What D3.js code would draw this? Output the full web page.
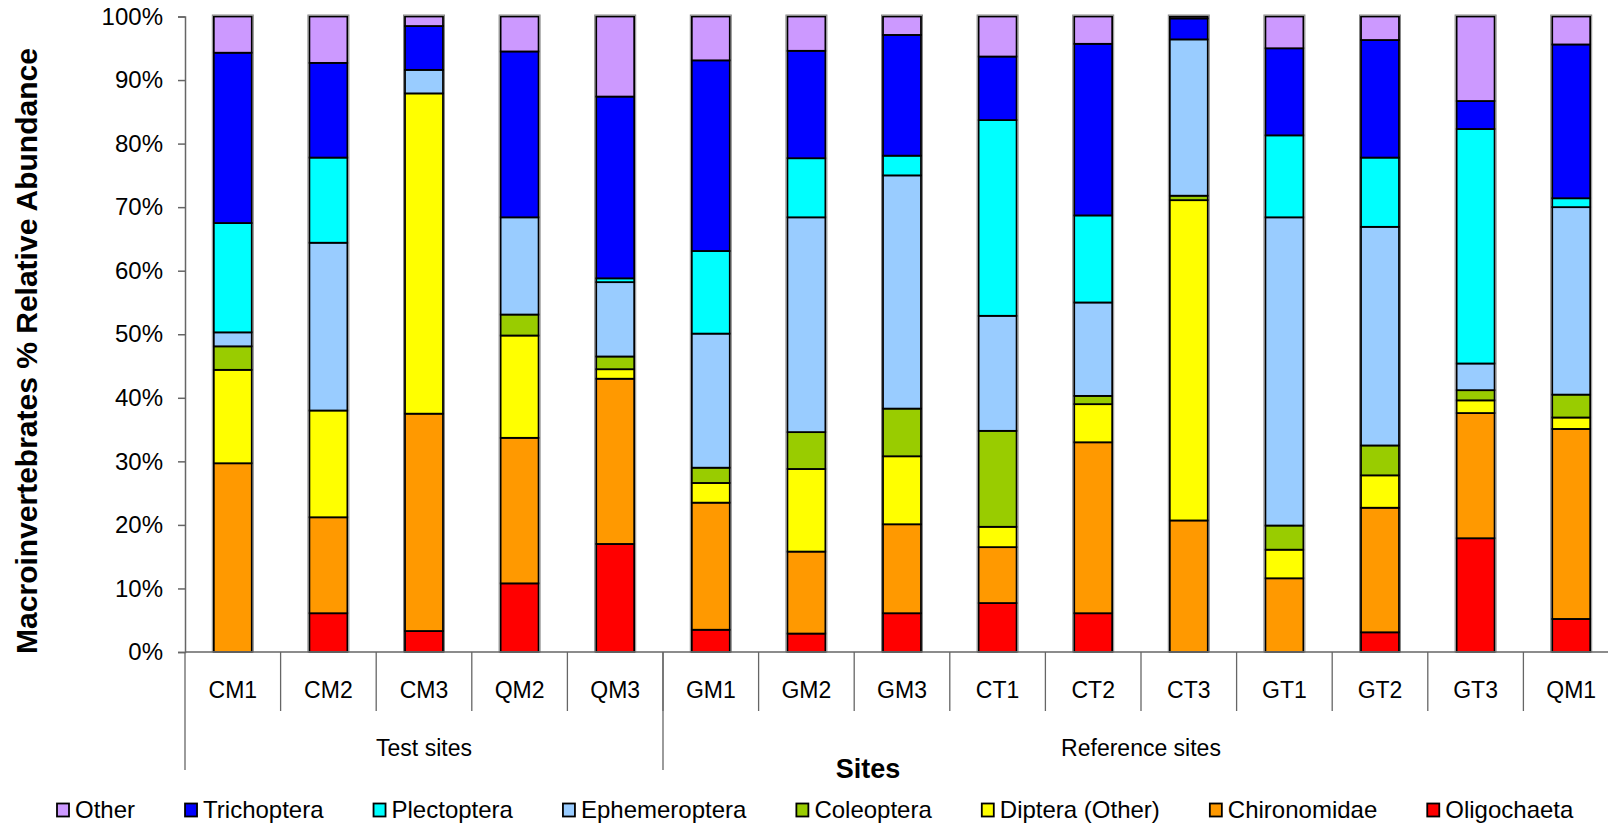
<!DOCTYPE html>
<html>
<head>
<meta charset="utf-8">
<script src="https://cdn.jsdelivr.net/npm/d3@7"></script>
<style>
  html, body { margin: 0; padding: 0; background: #fff; }
  svg { display: block; }
  text { font-family: Arial, "Liberation Sans", sans-serif; fill: #000; }
</style>
</head>
<body>
<svg id="chart" width="1608" height="825"></svg>
<script>
// ---- data ----
const sites = ["CM1","CM2","CM3","QM2","QM3","GM1","GM2","GM3","CT1","CT2","CT3","GT1","GT2","GT3","QM1"];
const groups = [
  { label: "Test sites", count: 5 },
  { label: "Reference sites", count: 10 }
];
// stacking order bottom -> top
const seriesNames = ["Oligochaeta","Chironomidae","Diptera (Other)","Coleoptera","Ephemeroptera","Plectoptera","Trichoptera","Other"];
const seriesColors = ["#FF0000","#FF9900","#FFFF00","#99CC00","#99CCFF","#00FFFF","#0000FF","#CC99FF"];
const oligochaeta   = [0, 6.1, 3.3, 10.8, 17.0, 3.5, 2.9, 6.1, 7.7, 6.1, 0, 0, 3.1, 17.9, 5.2];
const chironomidae  = [29.7, 15.1, 34.2, 22.9, 26.0, 20.0, 12.9, 14.0, 8.8, 26.9, 20.7, 11.6, 19.6, 19.7, 29.9];
const dipteraOther  = [14.7, 16.8, 50.4, 16.1, 1.5, 3.1, 13.0, 10.7, 3.2, 6.0, 50.4, 4.5, 5.1, 2.0, 1.8];
const coleoptera    = [3.7, 0, 0, 3.3, 2.0, 2.4, 5.8, 7.5, 15.1, 1.3, 0.7, 3.8, 4.7, 1.6, 3.6];
const ephemeroptera = [2.2, 26.4, 3.7, 15.3, 11.7, 21.1, 33.8, 36.7, 18.1, 14.7, 24.6, 48.5, 34.4, 4.2, 29.5];
const plectoptera   = [17.2, 13.4, 0, 0, 0.6, 13.0, 9.3, 3.1, 30.8, 13.7, 0, 12.9, 10.9, 36.9, 1.4];
const trichoptera   = [26.8, 14.9, 6.9, 26.1, 28.6, 30.0, 16.9, 19.0, 10.0, 27.0, 3.3, 13.7, 18.5, 4.4, 24.2];
const other         = [5.7, 7.3, 1.5, 5.5, 12.6, 6.9, 5.4, 2.9, 6.3, 4.3, 0.3, 5.0, 3.7, 13.3, 4.4];
const yTicks = [0,10,20,30,40,50,60,70,80,90,100];
const legendOrder = ["Other","Trichoptera","Plectoptera","Ephemeroptera","Coleoptera","Diptera (Other)","Chironomidae","Oligochaeta"];

const seriesValues = [oligochaeta, chironomidae, dipteraOther, coleoptera, ephemeroptera, plectoptera, trichoptera, other];
const rows = sites.map((s, i) => {
  const r = { site: s };
  seriesNames.forEach((n, k) => r[n] = seriesValues[k][i]);
  return r;
});

// ---- layout ----
const svg = d3.select("#chart");
const mLeft = 185, mTop = 16.5, mBottom = 652;
const band = 95.6;
const mRight = mLeft + band * sites.length;

const x = d3.scaleBand().domain(sites).range([mLeft, mRight]).paddingInner(0).paddingOuter(0);
const y = d3.scaleLinear().domain([0, 100]).range([mBottom, mTop]);
const color = d3.scaleOrdinal().domain(seriesNames).range(seriesColors);

const stacked = d3.stack().keys(seriesNames)(rows);
const barW = 38;

// bars
const g = svg.append("g");
stacked.forEach(layer => {
  g.append("g").selectAll("rect").data(layer).join("rect")
    .attr("x", d => x(d.data.site) + x.bandwidth() / 2 - barW / 2)
    .attr("width", barW)
    .attr("y", d => y(d[1]))
    .attr("height", d => Math.max(0, y(d[0]) - y(d[1])))
    .attr("fill", color(layer.key))
    .attr("stroke", "#000")
    .attr("stroke-width", 1.8)
    .attr("display", d => (d[1] - d[0]) > 0 ? null : "none");
});
// outer faint halo around each bar
g.append("g").selectAll("rect").data(sites).join("rect")
  .attr("x", s => x(s) + x.bandwidth() / 2 - barW / 2 - 1.5)
  .attr("width", barW + 3)
  .attr("y", y(100) - 1.5)
  .attr("height", y(0) - y(100) + 1.5)
  .attr("fill", "none")
  .attr("stroke", "#888")
  .attr("stroke-width", 1);

// y axis
const yAxis = d3.axisLeft(y).tickValues(yTicks).tickFormat(d => d + "%").tickSize(7).tickPadding(15);
const ya = svg.append("g").attr("transform", `translate(${mLeft},0)`).call(yAxis);
ya.select(".domain").attr("stroke", "#666").attr("stroke-width", 1.5);
ya.selectAll(".tick line").attr("stroke", "#666").attr("stroke-width", 1.5);
ya.selectAll(".tick text").attr("font-size", 24).attr("font-family", "Arial, 'Liberation Sans', sans-serif").attr("fill", "#000");

// x axis line
svg.append("line").attr("x1", mLeft).attr("x2", mRight).attr("y1", mBottom).attr("y2", mBottom)
  .attr("stroke", "#666").attr("stroke-width", 1.5);

// category dividers
const catBounds = d3.range(1, sites.length).map(i => mLeft + i * band);
svg.append("g").selectAll("line").data(catBounds).join("line")
  .attr("x1", d => d).attr("x2", d => d).attr("y1", mBottom).attr("y2", 711)
  .attr("stroke", "#666").attr("stroke-width", 1.3);

// category labels
svg.append("g").selectAll("text").data(sites).join("text")
  .attr("x", s => x(s) + x.bandwidth() / 2)
  .attr("y", 698)
  .attr("text-anchor", "middle")
  .attr("font-size", 23)
  .text(s => s);

// group dividers & labels
let acc = 0;
const groupBounds = [mLeft];
groups.forEach(gr => { acc += gr.count; groupBounds.push(mLeft + acc * band); });
svg.append("g").selectAll("line").data(groupBounds).join("line")
  .attr("x1", d => d).attr("x2", d => d).attr("y1", mBottom).attr("y2", 770)
  .attr("stroke", "#666").attr("stroke-width", 1.3);
svg.append("g").selectAll("text").data(groups).join("text")
  .attr("x", (d, i) => (groupBounds[i] + groupBounds[i + 1]) / 2)
  .attr("y", 756)
  .attr("text-anchor", "middle")
  .attr("font-size", 23)
  .text(d => d.label);

// axis titles
svg.append("text")
  .attr("x", 868).attr("y", 778)
  .attr("text-anchor", "middle")
  .attr("font-size", 27).attr("font-weight", "bold")
  .text("Sites");
svg.append("text")
  .attr("transform", "translate(37,351) rotate(-90)")
  .attr("text-anchor", "middle")
  .attr("font-size", 30).attr("font-weight", "bold")
  .text("Macroinvertebrates % Relative Abundance");

// legend (flow layout)
const leg = svg.append("g");
let lx = 57;
legendOrder.forEach(name => {
  leg.append("rect").attr("x", lx).attr("y", 803.5).attr("width", 12).attr("height", 13)
    .attr("fill", color(name)).attr("stroke", "#000").attr("stroke-width", 1.8);
  const t = leg.append("text").attr("x", lx + 18).attr("y", 818).attr("font-size", 24).text(name);
  lx += 18 + t.node().getComputedTextLength() + 50;
});
</script>
</body>
</html>
